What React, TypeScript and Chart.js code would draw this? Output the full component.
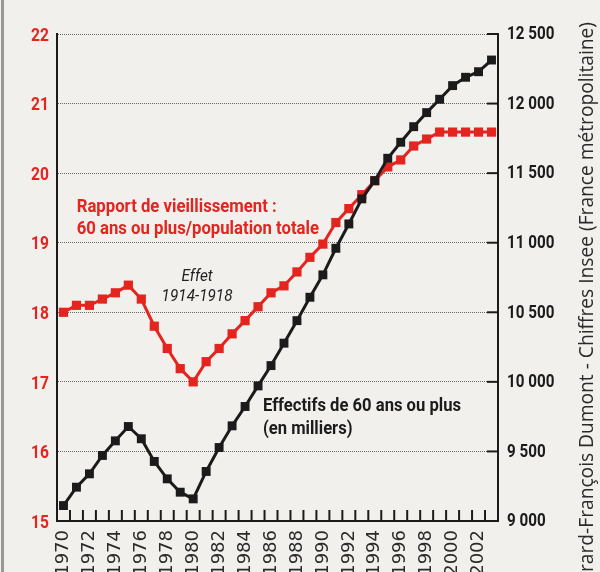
import React, { useEffect, useRef } from "react";
import { Chart, registerables } from "chart.js";

Chart.register(...registerables);

// ---------- data ----------
const years: string[] = [
  "1970", "1971", "1972", "1973", "1974", "1975", "1976", "1977", "1978", "1979",
  "1980", "1981", "1982", "1983", "1984", "1985", "1986", "1987", "1988", "1989",
  "1990", "1991", "1992", "1993", "1994", "1995", "1996", "1997", "1998", "1999",
  "2000", "2001", "2002", "2003",
];

// Rapport de vieillissement (%), left axis
const ratioValues: number[] = [
  18.0, 18.1, 18.1, 18.19, 18.28, 18.39, 18.19, 17.8, 17.48, 17.19,
  17.0, 17.29, 17.48, 17.69, 17.88, 18.08, 18.28, 18.38, 18.58, 18.79,
  18.98, 19.29, 19.49, 19.69, 19.89, 20.09, 20.19, 20.39, 20.49, 20.59,
  20.59, 20.59, 20.59, 20.59,
];

// Effectifs de 60 ans ou plus (milliers), right axis
const countValues: number[] = [
  9111, 9243, 9339, 9471, 9576, 9679, 9591, 9428, 9303, 9207,
  9159, 9356, 9528, 9684, 9823, 9971, 10117, 10278, 10440, 10608,
  10769, 10960, 11135, 11315, 11446, 11607, 11722, 11834, 11935, 12031,
  12129, 12189, 12229, 12313,
];

const leftTicks = { min: 15, max: 22, step: 1 };
const rightTicks = { min: 9000, max: 12500, step: 500 };

const ratioTitle = ["Rapport de vieillissement :", "60 ans ou plus/population totale"];
const effectTitle = ["Effet", "1914-1918"];
const countTitle = ["Effectifs de 60 ans ou plus", "(en milliers)"];
const creditFull = "Gérard-François Dumont - Chiffres Insee (France métropolitaine)";
const creditVisible = "rard-François Dumont - Chiffres Insee (France métropolitaine)";

// ---------- styles ----------
const RED = "#e3241f";
const BLACK = "#1b1b1b";
const BG = "#f1f0ed";
const FAMILY = "Roboto, 'Noto Sans', sans-serif";

const fmtThousands = (v: number) => {
  const th = Math.floor(v / 1000);
  const rest = String(v % 1000).padStart(3, "0");
  return `${th} ${rest}`;
};

// draws text horizontally compressed to imitate a condensed face
function narrowText(
  ctx: CanvasRenderingContext2D,
  text: string,
  x: number,
  y: number,
  font: string,
  color: string,
  align: CanvasTextAlign,
  sx: number,
  baseline: CanvasTextBaseline = "alphabetic"
) {
  ctx.save();
  ctx.translate(x, y);
  ctx.scale(sx, 1);
  ctx.font = font;
  ctx.fillStyle = color;
  ctx.textAlign = align;
  ctx.textBaseline = baseline;
  ctx.fillText(text, 0, 0);
  ctx.restore();
}

const decorPlugin = {
  id: "decor",
  beforeDraw(chart: any) {
    const { ctx, width, height } = chart;
    ctx.save();
    ctx.fillStyle = BG;
    ctx.fillRect(0, 0, width, height);
    ctx.strokeStyle = "#9a9896";
    ctx.lineWidth = 3;
    ctx.beginPath();
    ctx.moveTo(2.5, 0);
    ctx.lineTo(2.5, height);
    ctx.stroke();
    ctx.restore();
  },
  afterDraw(chart: any) {
    const { ctx, chartArea } = chart;
    const x = chart.scales.x;
    const y = chart.scales.y;
    const y1 = chart.scales.y1;
    ctx.save();
    // inward ticks on x axis (at category boundaries)
    ctx.strokeStyle = BLACK;
    ctx.lineWidth = 2;
    for (let i = 0; i < years.length - 1; i++) {
      const px = (x.getPixelForValue(i) + x.getPixelForValue(i + 1)) / 2;
      ctx.beginPath();
      ctx.moveTo(px, chartArea.bottom);
      ctx.lineTo(px, chartArea.bottom - 11);
      ctx.stroke();
    }
    // inward ticks on right axis
    y1.ticks.forEach((t: any) => {
      const py = y1.getPixelForValue(t.value);
      ctx.beginPath();
      ctx.moveTo(chartArea.right, py);
      ctx.lineTo(chartArea.right - 11, py);
      ctx.stroke();
    });

    // axis labels (condensed look)
    const tickFont = `bold 19px ${FAMILY}`;
    y.ticks.forEach((t: any) => {
      narrowText(ctx, String(t.value), chartArea.left - 8, y.getPixelForValue(t.value) + 2, tickFont, RED, "right", 0.82, "middle");
    });
    y1.ticks.forEach((t: any) => {
      narrowText(ctx, fmtThousands(t.value), chartArea.right + 9, y1.getPixelForValue(t.value) + 0.5, tickFont, BLACK, "left", 0.8, "middle");
    });

    // annotations anchored to scale values
    const put = (lines: string[], xi: number, v: number, gap: number, font: string, color: string, align: CanvasTextAlign, refLine: number, targetW: number) => {
      ctx.font = font;
      const k = targetW / ctx.measureText(lines[refLine]).width;
      const px = x.getPixelForValue(xi);
      const py = y.getPixelForValue(v);
      lines.forEach((t, i) => narrowText(ctx, t, px, py + i * gap, font, color, align, k));
    };
    put(ratioTitle, 1.02, 19.446, 22.5, `bold 19px ${FAMILY}`, RED, "left", 0, 200);
    put(effectTitle, 10.3, 18.45, 20, `italic 17px ${FAMILY}`, "#222", "center", 1, 71);
    put(countTitle, 15.38, 16.58, 23, `bold 19px ${FAMILY}`, BLACK, "left", 0, 198);

    // rotated credit text
    ctx.font = "20px 'Open Sans', 'Noto Sans', sans-serif";
    const w = ctx.measureText(creditVisible).width;
    const k = 550 / w;
    ctx.translate(593, 22);
    ctx.rotate(-Math.PI / 2);
    ctx.scale(k, 1);
    ctx.fillStyle = "#2a2a2a";
    ctx.textAlign = "right";
    ctx.textBaseline = "alphabetic";
    ctx.fillText(creditFull, 0, 0);
    ctx.restore();
  },
};

export default function App() {
  const ref = useRef<HTMLCanvasElement | null>(null);

  useEffect(() => {
    document.body.style.margin = "0";
    document.body.style.background = BG;
    if (!ref.current) return;
    const chart = new Chart(ref.current, {
      type: "line",
      data: {
        labels: years,
        datasets: [
          {
            label: "Effectifs de 60 ans ou plus",
            data: countValues,
            yAxisID: "y1",
            borderColor: BLACK,
            backgroundColor: BLACK,
            borderWidth: 3,
            pointStyle: "rect",
            pointRadius: 6.3,
            pointBorderWidth: 0,
            tension: 0,
            clip: false as any,
          },
          {
            label: "Rapport de vieillissement",
            data: ratioValues,
            yAxisID: "y",
            borderColor: RED,
            backgroundColor: RED,
            borderWidth: 3,
            pointStyle: "rect",
            pointRadius: 6.5,
            pointBorderWidth: 0,
            tension: 0,
            clip: false as any,
          },
        ],
      },
      options: {
        responsive: false,
        animation: false,
        layout: { padding: { top: 34, left: 0, right: 0, bottom: 0 } },
        plugins: { legend: { display: false }, tooltip: { enabled: false } },
        scales: {
          x: {
            type: "category",
            offset: true,
            grid: { display: true, drawOnChartArea: false, drawTicks: false },
            border: { display: true, color: BLACK, width: 2 },
            ticks: {
              autoSkip: false,
              minRotation: 90,
              maxRotation: 90,
              padding: 9,
              color: "#2a2a2a",
              font: { family: "'DejaVu Sans'", size: 18 },
              callback: (_v: any, i: number) => (i % 2 === 0 ? years[i] : ""),
            },
            afterFit: (s: any) => {
              s.height = 51;
            },
          },
          y: {
            position: "left",
            min: leftTicks.min,
            max: leftTicks.max,
            ticks: { stepSize: leftTicks.step, display: false },
            grid: { color: "rgba(70,70,70,0.8)", lineWidth: 1, drawTicks: false },
            border: { display: true, color: BLACK, width: 2, dash: [1, 1] },
            afterFit: (s: any) => {
              s.width = 57;
            },
          },
          y1: {
            position: "right",
            min: rightTicks.min,
            max: rightTicks.max,
            ticks: { stepSize: rightTicks.step, display: false },
            grid: { drawOnChartArea: false, drawTicks: false },
            border: { display: true, color: BLACK, width: 2 },
            afterFit: (s: any) => {
              s.width = 102;
            },
          },
        },
      } as any,
      plugins: [decorPlugin],
    });
    return () => chart.destroy();
  }, []);

  return (
    <div style={{ width: 600, height: 572 }}>
      <canvas ref={ref} width={600} height={572} style={{ display: "block" }} />
    </div>
  );
}
